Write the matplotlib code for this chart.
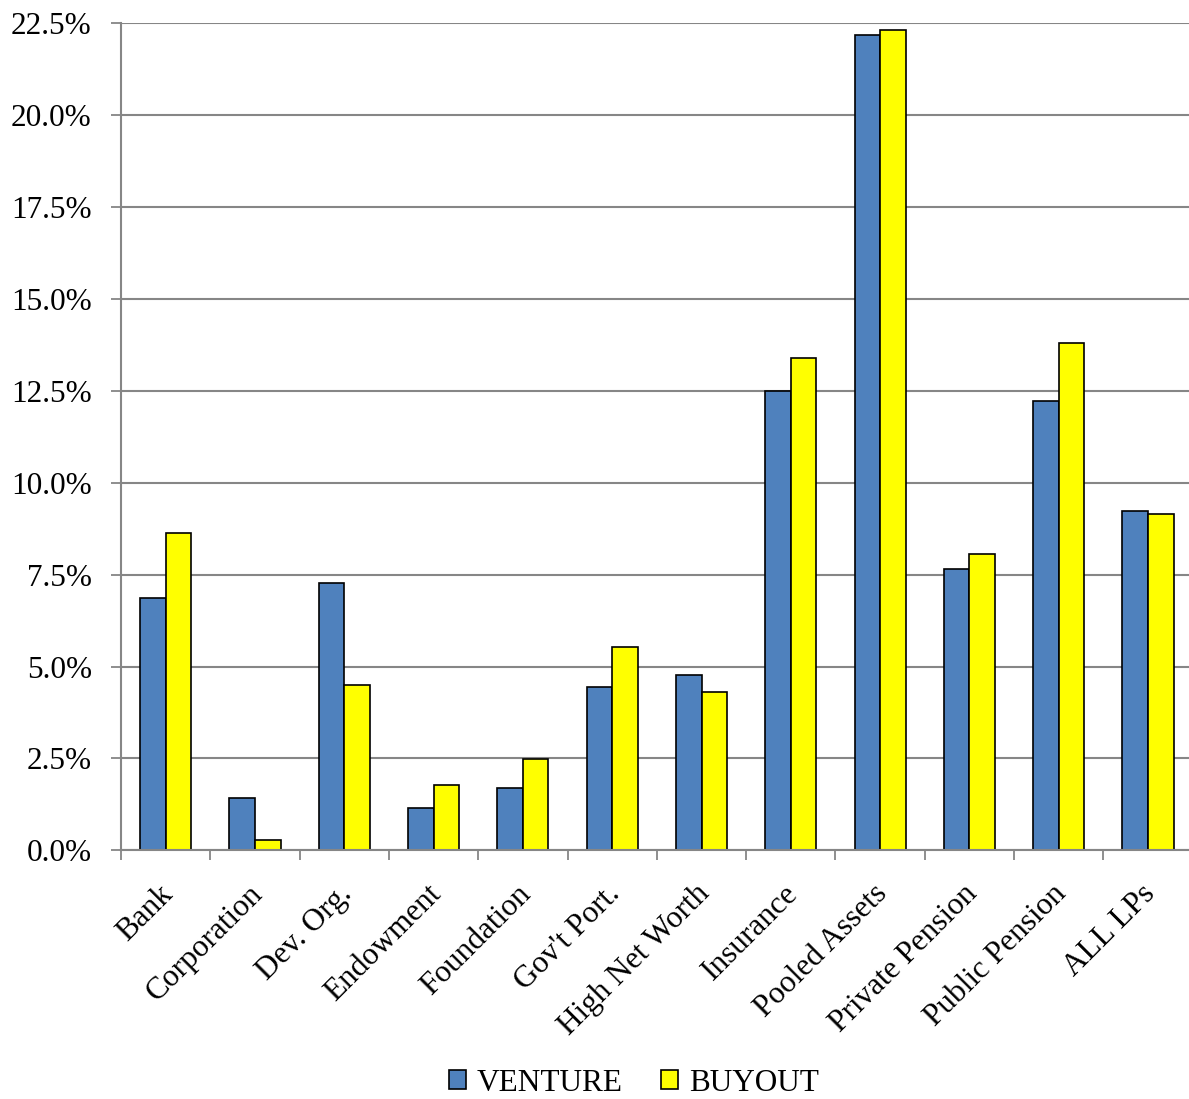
import matplotlib
matplotlib.use("Agg")
import matplotlib.pyplot as plt
from matplotlib.patches import Patch
from matplotlib.ticker import FixedLocator, NullFormatter
from matplotlib.transforms import ScaledTranslation

categories = ["Bank", "Corporation", "Dev. Org.", "Endowment", "Foundation",
              "Gov't Port.", "High Net Worth", "Insurance", "Pooled Assets",
              "Private Pension", "Public Pension", "ALL LPs"]
venture = [6.86, 1.41, 7.28, 1.14, 1.70, 4.43, 4.78, 12.49, 22.18, 7.65, 12.22, 9.22]
buyout = [8.62, 0.28, 4.50, 1.78, 2.48, 5.54, 4.31, 13.39, 22.32, 8.07, 13.80, 9.15]
yticks = [0.0, 2.5, 5.0, 7.5, 10.0, 12.5, 15.0, 17.5, 20.0, 22.5]

BLUE = "#4F81BD"
YELLOW = "#FFFF00"
GRID = "#868686"
FONT = "Liberation Serif"
FS = 22.5

plt.rcParams["font.family"] = FONT

fig = plt.figure(figsize=(11.89, 10.99), dpi=100)
ax = fig.add_axes([0.1018, 0.2263, 0.9013, 0.7525])

x = list(range(len(categories)))
w = 0.286
ax.bar([i - w / 2 for i in x], venture, width=w, color=BLUE,
       edgecolor="black", linewidth=1.2, zorder=3, label="VENTURE")
ax.bar([i + w / 2 for i in x], buyout, width=w, color=YELLOW,
       edgecolor="black", linewidth=1.2, zorder=3, label="BUYOUT")

ax.set_xlim(-0.5, len(categories) - 0.5)
ax.set_ylim(0, 22.5)

ax.set_yticks(yticks)
ax.set_yticklabels([f"{v:.1f}%" for v in yticks])
ax.yaxis.grid(True, color=GRID, linewidth=1.5, zorder=0)
ax.tick_params(axis="y", length=7, width=1.3, color=GRID, labelsize=FS,
               pad=14)

# category labels at group centres, tick marks at group boundaries
ax.set_xticks(x)
ax.set_xticklabels(categories, rotation=45, ha="right", va="top",
                   rotation_mode="anchor", fontsize=FS)
ax.tick_params(axis="x", which="major", length=0, pad=21)
shift = ScaledTranslation(-7 / 100, 0, fig.dpi_scale_trans)
for lbl in ax.get_xticklabels():
    lbl.set_transform(lbl.get_transform() + shift)
ax.xaxis.set_minor_locator(FixedLocator([i - 0.5 for i in range(len(categories) + 1)]))
ax.xaxis.set_minor_formatter(NullFormatter())
ax.tick_params(axis="x", which="minor", length=7, width=1.3, color=GRID,
               direction="out")

for side in ("top", "right"):
    ax.spines[side].set_visible(False)
for side in ("left", "bottom"):
    ax.spines[side].set_color(GRID)
    ax.spines[side].set_linewidth(1.5)
    ax.spines[side].set_zorder(4)

handles = [Patch(facecolor=BLUE, edgecolor="black", linewidth=1.2, label="VENTURE"),
           Patch(facecolor=YELLOW, edgecolor="black", linewidth=1.2, label="BUYOUT")]
fig.legend(handles=handles, loc="center", bbox_to_anchor=(0.533, 0.0145),
           ncol=2, frameon=False, fontsize=FS, handlelength=0.55,
           handleheight=0.55, handletextpad=0.35, columnspacing=1.2)

fig.savefig("out.png", dpi=100)
